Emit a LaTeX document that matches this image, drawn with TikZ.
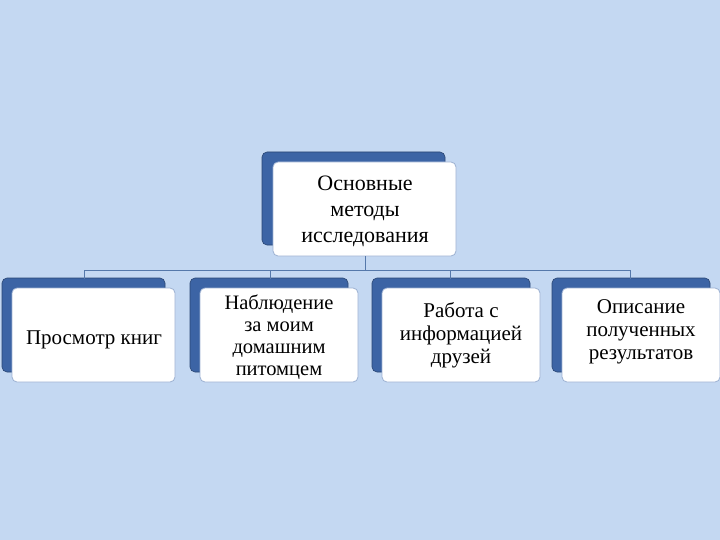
\documentclass[tikz,border=0pt]{standalone}
\usepackage{fontspec}
\setmainfont{Liberation Serif}
\definecolor{bg}{RGB}{196,216,242}
\definecolor{sh}{RGB}{60,100,165}
\definecolor{ln}{RGB}{85,120,170}
\begin{document}
\begin{tikzpicture}[x=1pt,y=-1pt,
  back/.style={fill=sh,rounded corners=5pt,draw=sh!70!black,line width=0.6pt},
  front/.style={fill=white,draw=sh!50,rounded corners=5pt,line width=0.8pt},
  lbl/.style={align=center,font=\fontsize{21}{23}\selectfont,text=black},
  conn/.style={draw=ln,line width=1pt}]
\fill[bg] (0,0) rectangle (720,540);
\useasboundingbox (0,0) rectangle (720,540);
% top
\draw[back] (262,152) rectangle (445,245);
\draw[front] (273,162) rectangle (456,256);
\node[lbl,font=\fontsize{22}{26}\selectfont] (top) at (365,211) {Основные\\методы\\исследования};
% bottom
\foreach \i/\a/\b in {1/2/165,2/190/348,3/372/530,4/552/710}{
  \draw[back] (\a,278) rectangle (\b,372);
  \draw[front] (\a+10,288) rectangle (\b+10,382);
}
\node[lbl] (b1) at (94,340) {Просмотр книг};
\node[lbl,font=\fontsize{20.5}{22}\selectfont] (b2) at (279,337) {Наблюдение\\за моим\\домашним\\питомцем};
\node[lbl] (b3) at (461,335) {Работа с\\информацией\\друзей};
\node[lbl] (b4) at (641,332) {Описание\\полученных\\результатов};
\coordinate (t) at (365,256);
\coordinate (h) at (365,270);
\draw[conn] (t) -- (h);
\draw[conn] (84,270) -- (630,270);
\foreach \x in {84,270,450,630} \draw[conn] (\x,270) -- (\x,279);
\end{tikzpicture}
\end{document}
